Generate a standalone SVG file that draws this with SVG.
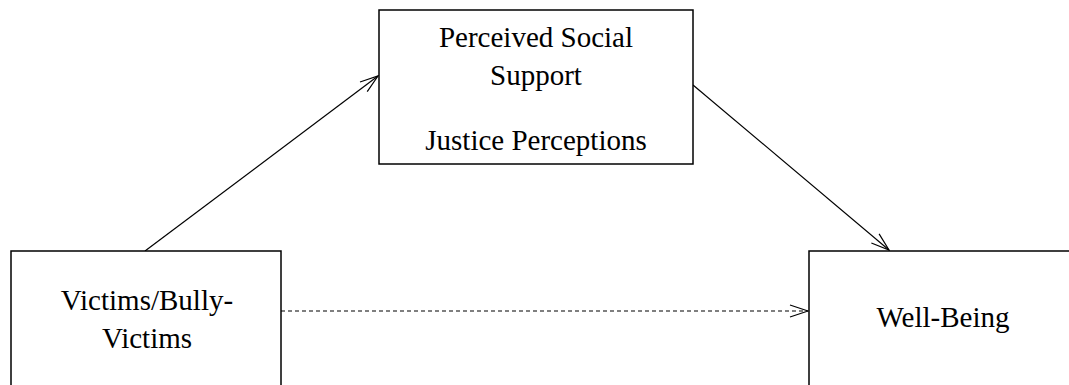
<svg xmlns="http://www.w3.org/2000/svg" width="1069" height="385" viewBox="0 0 1069 385">
<style>
.box{fill:#fff;stroke:#000;stroke-width:1.5}
.t{font-family:"Liberation Serif","Times New Roman",serif;font-size:29px;fill:#000;text-anchor:middle}
.c{fill:none;stroke:#000;stroke-width:1.2}
</style>
<defs>
<marker id="ah" viewBox="0 0 20 14" refX="19" refY="7" markerWidth="20" markerHeight="14" markerUnits="userSpaceOnUse" orient="auto">
<path d="M1,1 L19,7 L1,13" fill="none" stroke="#000" stroke-width="1.2"/>
</marker>
</defs>
<rect width="1069" height="385" fill="#fff"/>
<g id="connectors">
<line class="c" x1="145" y1="251" x2="378" y2="76" marker-end="url(#ah)"/>
<line class="c" x1="693" y1="85" x2="889" y2="250" marker-end="url(#ah)"/>
<line class="c" x1="281" y1="311" x2="808" y2="311" stroke-dasharray="4,3" marker-end="url(#ah)"/>
</g>
<g id="mediator">
<rect class="box" x="379" y="10" width="314" height="154"/>
<text class="t" x="536" y="47">Perceived Social</text>
<text class="t" x="536" y="85">Support</text>
<text class="t" x="536" y="150">Justice Perceptions</text>
</g>
<g id="predictor">
<rect class="box" x="11" y="251" width="270" height="150"/>
<text class="t" x="147" y="310">Victims/Bully-</text>
<text class="t" x="147" y="348">Victims</text>
</g>
<g id="outcome">
<rect class="box" x="809" y="251" width="280" height="150"/>
<text class="t" x="943" y="327">Well-Being</text>
</g>
</svg>
